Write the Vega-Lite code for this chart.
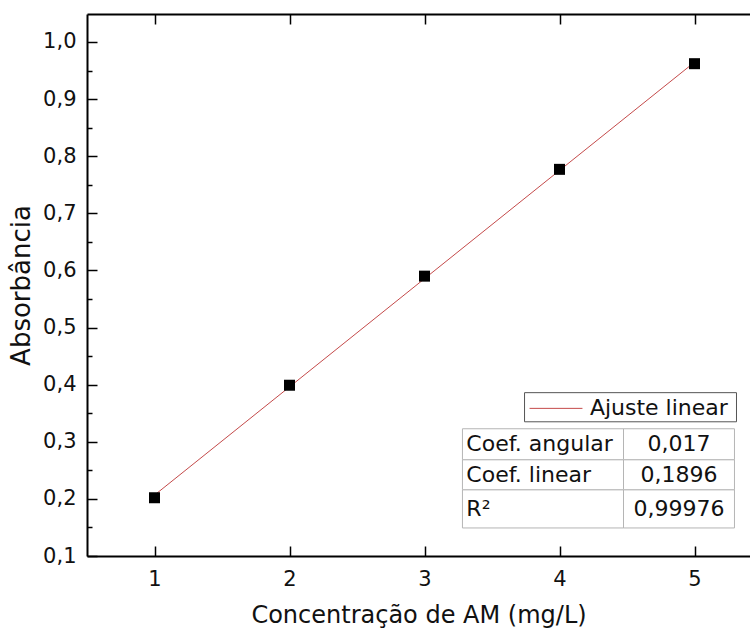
{
  "$schema": "https://vega.github.io/schema/vega-lite/v6.json",
  "autosize": "none",
  "width": 663,
  "height": 542,
  "padding": {"left": 87, "top": 14, "right": 0, "bottom": 79},
  "background": "white",
  "config": {
    "view": {"stroke": null},
    "font": "DejaVu Sans",
    "axis": {"domainColor": "#000", "domainWidth": 2, "tickColor": "#000", "tickWidth": 1.5, "labelColor": "#111", "titleColor": "#111", "labelFont": "DejaVu Sans", "titleFont": "DejaVu Sans", "titleFontWeight": "normal", "grid": false}
  },
  "datasets": {
    "pts": [
      {"conc": 1, "abs": 0.202},
      {"conc": 2, "abs": 0.399},
      {"conc": 3, "abs": 0.590},
      {"conc": 4, "abs": 0.777},
      {"conc": 5, "abs": 0.962}
    ],
    "fit": [
      {"conc": 1, "abs": 0.2066},
      {"conc": 5, "abs": 0.9646}
    ],
    "cells": [
      {"x1": 3.281, "x2": 4.474, "y1": 0.3228, "y2": 0.2684},
      {"x1": 4.474, "x2": 5.296, "y1": 0.3228, "y2": 0.2684},
      {"x1": 3.281, "x2": 4.474, "y1": 0.2684, "y2": 0.2158},
      {"x1": 4.474, "x2": 5.296, "y1": 0.2684, "y2": 0.2158},
      {"x1": 3.281, "x2": 4.474, "y1": 0.2158, "y2": 0.1491},
      {"x1": 4.474, "x2": 5.296, "y1": 0.2158, "y2": 0.1491}
    ],
    "legbox": [{"x1": 3.741, "x2": 5.311, "y1": 0.335, "y2": 0.386}],
    "legline": [{"x1": 3.778, "x2": 4.17, "y": 0.3585}],
    "legtext": [{"x": 4.225, "y": 0.3585, "t": "Ajuste linear"}],
    "labels": [
      {"x": 3.31, "y": 0.2956, "t": "Coef. angular"},
      {"x": 3.31, "y": 0.2421, "t": "Coef. linear"},
      {"x": 3.31, "y": 0.1825, "t": "R²"}
    ],
    "vals": [
      {"x": 4.885, "y": 0.2956, "t": "0,017"},
      {"x": 4.885, "y": 0.2421, "t": "0,1896"},
      {"x": 4.885, "y": 0.1825, "t": "0,99976"}
    ]
  },
  "resolve": {"axis": {"x": "independent", "y": "independent"}},
  "layer": [
    {
      "data": {"name": "fit"},
      "mark": {"type": "line", "color": "#c44a4a", "strokeWidth": 1},
      "encoding": {
        "x": {"field": "conc", "type": "quantitative", "scale": {"domain": [0.5, 5.411], "nice": false, "zero": false},
          "axis": {"orient": "bottom", "values": [1, 2, 3, 4, 5], "tickSize": -10, "labelFontSize": 21, "labelPadding": 22, "title": "Concentração de AM (mg/L)", "titleFontSize": 24, "titlePadding": 14}},
        "y": {"field": "abs", "type": "quantitative", "scale": {"domain": [0.1, 1.049], "nice": false, "zero": false},
          "axis": {"orient": "left", "values": [0.1, 0.15, 0.2, 0.25, 0.3, 0.35, 0.4, 0.45, 0.5, 0.55, 0.6, 0.65, 0.7, 0.75, 0.8, 0.85, 0.9, 0.95, 1.0],
            "tickSize": {"condition": {"test": "round(datum.value*100) % 10 != 0", "value": -5}, "value": -10},
            "labelExpr": "round(datum.value*100) % 10 != 0 ? '' : replace(format(datum.value, '.1f'), '.', ',')",
            "labelFontSize": 21, "labelPadding": 21, "title": "Absorbância", "titleFontSize": 26, "titlePadding": 8}}
      }
    },
    {
      "data": {"name": "pts"},
      "mark": {"type": "square", "size": 121, "color": "#000", "opacity": 1, "filled": true},
      "encoding": {
        "x": {"field": "conc", "type": "quantitative", "axis": {"orient": "top", "values": [1, 2, 3, 4, 5], "tickSize": -10, "labels": false, "title": null}},
        "y": {"field": "abs", "type": "quantitative", "axis": null}
      }
    },
    {
      "data": {"name": "legbox"},
      "mark": {"type": "rect", "fill": "white", "stroke": "#555", "strokeWidth": 1},
      "encoding": {
        "x": {"field": "x1", "type": "quantitative", "axis": null},
        "x2": {"field": "x2"},
        "y": {"field": "y1", "type": "quantitative", "axis": null},
        "y2": {"field": "y2"}
      }
    },
    {
      "data": {"name": "legline"},
      "mark": {"type": "rule", "color": "#c44a4a", "strokeWidth": 1},
      "encoding": {
        "x": {"field": "x1", "type": "quantitative", "axis": null},
        "x2": {"field": "x2"},
        "y": {"field": "y", "type": "quantitative", "axis": null}
      }
    },
    {
      "data": {"name": "legtext"},
      "mark": {"type": "text", "align": "left", "baseline": "middle", "fontSize": 22, "color": "#111"},
      "encoding": {
        "x": {"field": "x", "type": "quantitative", "axis": null},
        "y": {"field": "y", "type": "quantitative", "axis": null},
        "text": {"field": "t"}
      }
    },
    {
      "data": {"name": "cells"},
      "mark": {"type": "rect", "fill": "white", "stroke": "#b5b5b5", "strokeWidth": 1},
      "encoding": {
        "x": {"field": "x1", "type": "quantitative", "axis": null},
        "x2": {"field": "x2"},
        "y": {"field": "y1", "type": "quantitative", "axis": null},
        "y2": {"field": "y2"}
      }
    },
    {
      "data": {"name": "labels"},
      "mark": {"type": "text", "align": "left", "baseline": "middle", "fontSize": 22, "color": "#111"},
      "encoding": {
        "x": {"field": "x", "type": "quantitative", "axis": null},
        "y": {"field": "y", "type": "quantitative", "axis": null},
        "text": {"field": "t"}
      }
    },
    {
      "data": {"name": "vals"},
      "mark": {"type": "text", "align": "center", "baseline": "middle", "fontSize": 22, "color": "#111"},
      "encoding": {
        "x": {"field": "x", "type": "quantitative", "axis": null},
        "y": {"field": "y", "type": "quantitative", "axis": null},
        "text": {"field": "t"}
      }
    }
  ]
}
